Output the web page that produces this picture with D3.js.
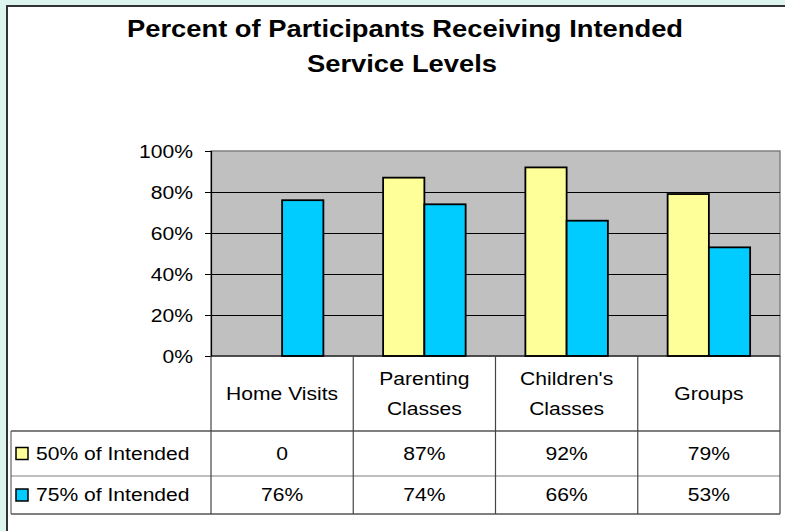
<!DOCTYPE html>
<html>
<head>
<meta charset="utf-8">
<script src="https://cdn.jsdelivr.net/npm/d3@7/dist/d3.min.js"></script>
<style>
  html, body { margin: 0; padding: 0; background: #ddf4ef; }
  svg { display: block; }
  text { font-family: "Liberation Sans", Arial, sans-serif; fill: #000; }
</style>
</head>
<body>
<div id="chart"></div>
<script>
// chart data
var categories = ["Home Visits", "Parenting Classes", "Children's Classes", "Groups"];
var categoryLines = [["Home Visits"], ["Parenting", "Classes"], ["Children's", "Classes"], ["Groups"]];
var seriesNames = ["50% of Intended", "75% of Intended"];
var values50 = [0, 87, 92, 79];
var values75 = [76, 74, 66, 53];
var tableText50 = ["0", "87%", "92%", "79%"];
var tableText75 = ["76%", "74%", "66%", "53%"];
var yTicks = [0, 20, 40, 60, 80, 100];
var colors = ["#ffff99", "#00ccff"];

var fullWidth = 785, fullHeight = 531;
var sx = 1.14; // the original text is drawn a little wide
var plot = {left: 211, right: 780, top: 151, bottom: 356};
var rowY = [356, 431, 476, 514]; // header / row1 / row2 / bottom edges
var legendLeft = 11;

var svg = d3.select("#chart").append("svg")
    .attr("width", fullWidth)
    .attr("height", fullHeight);

// white chart panel with dark frame
svg.append("rect")
    .attr("x", 7).attr("y", 6)
    .attr("width", 820).attr("height", 560)
    .attr("fill", "#fff")
    .attr("stroke", "#333")
    .attr("stroke-width", 2);

// title
var title = svg.append("g").attr("class", "title");
[["Percent of Participants Receiving Intended", 405, 37], ["Service Levels", 402, 72]].forEach(function (t) {
  title.append("text")
      .attr("text-anchor", "middle")
      .attr("transform", "translate(" + t[1] + "," + t[2] + ") scale(" + sx + ",1)")
      .style("font-size", "24px")
      .style("font-weight", "bold")
      .text(t[0]);
});

var x0 = d3.scaleBand()
    .domain(categories)
    .range([plot.left, plot.right])
    .padding(0);

var groupW = x0.bandwidth() * 0.58;
var x1 = d3.scaleBand()
    .domain(seriesNames)
    .range([(x0.bandwidth() - groupW) / 2, (x0.bandwidth() + groupW) / 2])
    .padding(0);

var y = d3.scaleLinear()
    .domain([0, 100])
    .range([plot.bottom, plot.top]);

// plot background
svg.append("rect")
    .attr("x", plot.left).attr("y", plot.top)
    .attr("width", plot.right - plot.left)
    .attr("height", plot.bottom - plot.top)
    .attr("fill", "#c0c0c0")
    .attr("stroke", "#808080")
    .attr("stroke-width", 1.5);

// gridlines
svg.append("g")
    .attr("class", "grid")
    .attr("transform", "translate(" + plot.left + ",0)")
    .call(d3.axisLeft(y).tickValues(yTicks.slice(1, -1)).tickSize(-(plot.right - plot.left)).tickFormat(""))
    .call(function (g) { g.select(".domain").remove(); })
    .selectAll("line")
    .attr("stroke", "#000")
    .attr("stroke-width", 1);

// bars
var rows = categories.map(function (c, i) {
  return {cat: c, vals: [values50[i], values75[i]]};
});

var groups = svg.append("g").selectAll("g")
    .data(rows)
    .enter().append("g")
    .attr("transform", function (d) { return "translate(" + x0(d.cat) + ",0)"; });

groups.selectAll("rect")
    .data(function (d) { return d.vals.map(function (v, j) { return {s: seriesNames[j], v: v, j: j}; }); })
    .enter().append("rect")
    .filter(function (d) { return d.v > 0; })
    .attr("x", function (d) { return x1(d.s); })
    .attr("y", function (d) { return y(d.v); })
    .attr("width", x1.bandwidth())
    .attr("height", function (d) { return y(0) - y(d.v); })
    .attr("fill", function (d) { return colors[d.j]; })
    .attr("stroke", "#000")
    .attr("stroke-width", 1.8);

// y axis
var yAxis = svg.append("g")
    .attr("transform", "translate(" + plot.left + ",0)")
    .call(d3.axisLeft(y).tickValues(yTicks).tickSize(6).tickFormat(function (d) { return d + "%"; }));
yAxis.select(".domain").attr("stroke", "#000").attr("stroke-width", 1.2);
yAxis.selectAll("line").attr("stroke", "#000");
yAxis.selectAll("text")
    .attr("x", -18 / sx)
    .attr("dy", "0.35em")
    .attr("transform", "scale(" + sx + ",1)")
    .style("font-size", "18.5px")
    .style("font-family", "'Liberation Sans', Arial, sans-serif")
    .attr("fill", "#000");

// data table
var table = svg.append("g").attr("class", "table");

function hline(x1p, x2p, yy, col) {
  table.append("line")
      .attr("x1", x1p).attr("x2", x2p)
      .attr("y1", yy).attr("y2", yy)
      .attr("stroke", col).attr("stroke-width", 1.2);
}
function vline(xx, y1p, y2p, col) {
  table.append("line")
      .attr("x1", xx).attr("x2", xx)
      .attr("y1", y1p).attr("y2", y2p)
      .attr("stroke", col).attr("stroke-width", 1.2);
}

hline(plot.left, plot.right, rowY[0], "#000");
hline(legendLeft, plot.right, rowY[1], "#000");
hline(legendLeft, plot.right, rowY[2], "#808080");
hline(legendLeft, plot.right, rowY[3], "#000");
vline(legendLeft, rowY[1], rowY[3], "#666");
categories.forEach(function (c) {
  vline(x0(c), rowY[0], rowY[3], "#444");
});
vline(plot.right, rowY[0], rowY[3], "#444");

function cellText(txt, cx, cy, anchor) {
  table.append("text")
      .attr("text-anchor", anchor || "middle")
      .attr("dy", "0.35em")
      .attr("transform", "translate(" + cx + "," + cy + ") scale(" + sx + ",1)")
      .style("font-size", "18.5px")
      .text(txt);
}

// category header
var headMid = (rowY[0] + rowY[1]) / 2;
categories.forEach(function (c, i) {
  var cx = x0(c) + x0.bandwidth() / 2;
  var lines = categoryLines[i];
  lines.forEach(function (l, k) {
    cellText(l, cx, headMid + (k - (lines.length - 1) / 2) * 30);
  });
});

// series rows
[tableText50, tableText75].forEach(function (arr, r) {
  var cy = (rowY[r + 1] + rowY[r + 2]) / 2;
  table.append("rect")
      .attr("x", 16).attr("y", cy - 6)
      .attr("width", 12).attr("height", 12)
      .attr("fill", colors[r])
      .attr("stroke", "#000")
      .attr("stroke-width", 1.5);
  cellText(seriesNames[r], 36, cy, "start");
  arr.forEach(function (t, i) {
    cellText(t, x0(categories[i]) + x0.bandwidth() / 2, cy);
  });
});
</script>
</body>
</html>
